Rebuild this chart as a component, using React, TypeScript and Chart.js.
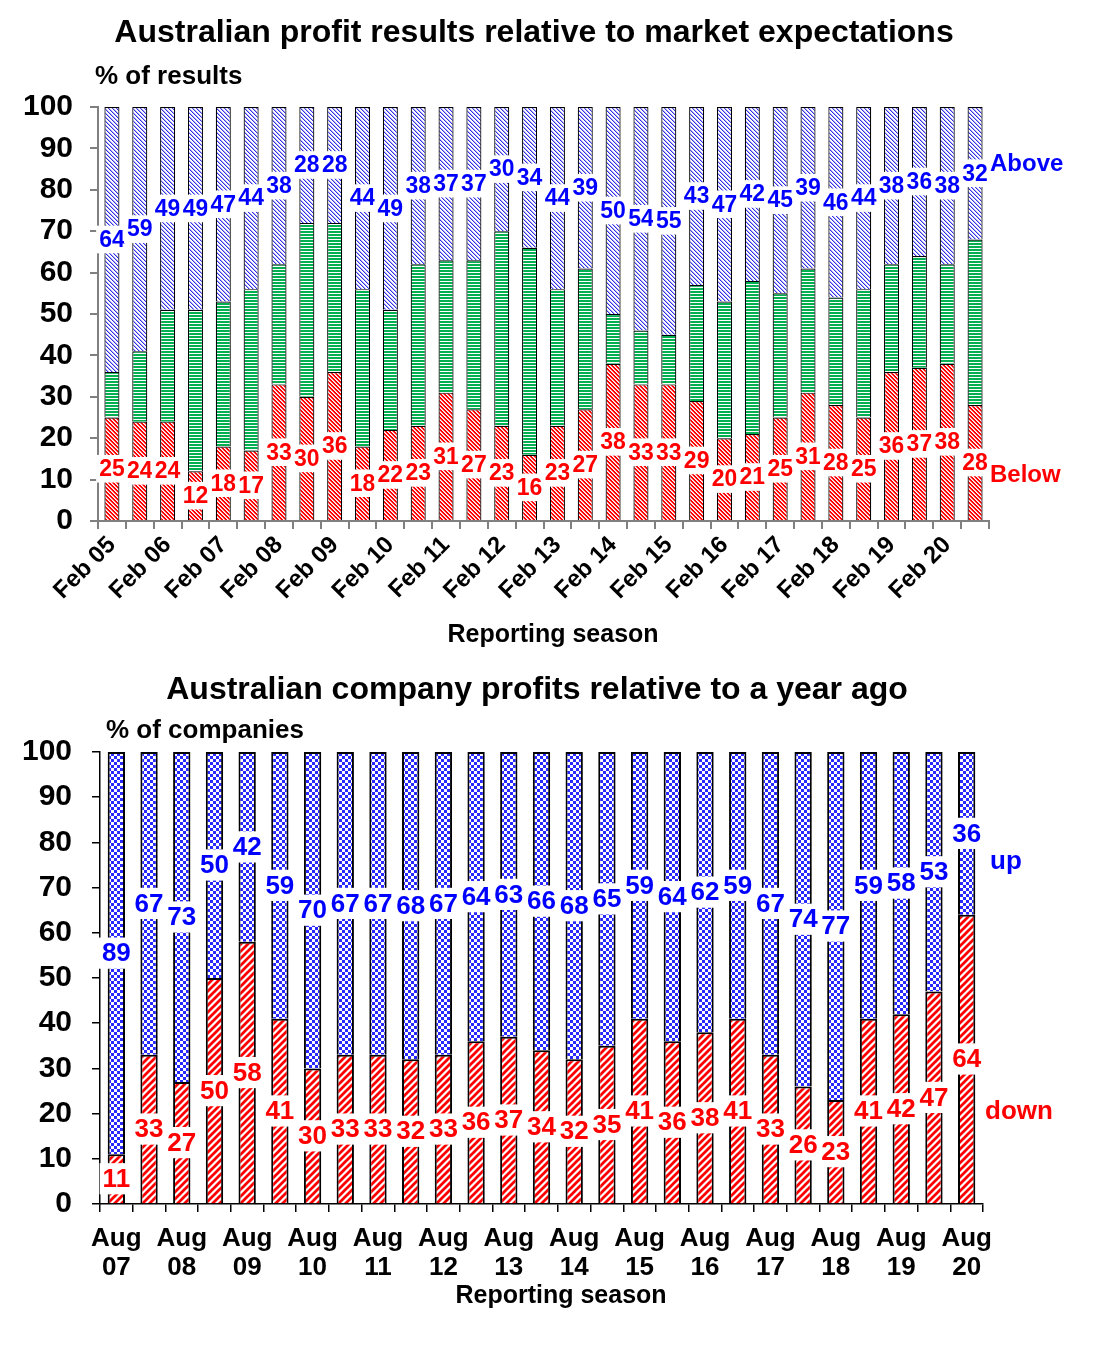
import React, { useEffect, useRef } from 'react';
import Chart from 'chart.js/auto';

// ---- top chart: results vs market expectations ----
const resultSeasons = [
  'Feb 05', 'Aug 05', 'Feb 06', 'Aug 06', 'Feb 07', 'Aug 07', 'Feb 08', 'Aug 08',
  'Feb 09', 'Aug 09', 'Feb 10', 'Aug 10', 'Feb 11', 'Aug 11', 'Feb 12', 'Aug 12',
  'Feb 13', 'Aug 13', 'Feb 14', 'Aug 14', 'Feb 15', 'Aug 15', 'Feb 16', 'Aug 16',
  'Feb 17', 'Aug 17', 'Feb 18', 'Aug 18', 'Feb 19', 'Aug 19', 'Feb 20', 'Aug 20',
];
const belowValues = [25, 24, 24, 12, 18, 17, 33, 30, 36, 18, 22, 23, 31, 27, 23, 16, 23, 27, 38, 33, 33, 29, 20, 21, 25, 31, 28, 25, 36, 37, 38, 28];
const inLineValues = [11, 17, 27, 39, 35, 39, 29, 42, 36, 38, 29, 39, 32, 36, 47, 50, 33, 34, 12, 13, 12, 28, 33, 37, 30, 30, 26, 31, 26, 27, 24, 40];
const aboveValues = [64, 59, 49, 49, 47, 44, 38, 28, 28, 44, 49, 38, 37, 37, 30, 34, 44, 39, 50, 54, 55, 43, 47, 42, 45, 39, 46, 44, 38, 36, 38, 32];

// ---- bottom chart: profits vs a year ago ----
const companySeasons = [
  'Aug 07', 'Feb 08', 'Aug 08', 'Feb 09', 'Aug 09', 'Feb 10', 'Aug 10', 'Feb 11', 'Aug 11',
  'Feb 12', 'Aug 12', 'Feb 13', 'Aug 13', 'Feb 14', 'Aug 14', 'Feb 15', 'Aug 15', 'Feb 16',
  'Aug 16', 'Feb 17', 'Aug 17', 'Feb 18', 'Aug 18', 'Feb 19', 'Aug 19', 'Feb 20', 'Aug 20',
];
const downValues = [11, 33, 27, 50, 58, 41, 30, 33, 33, 32, 33, 36, 37, 34, 32, 35, 41, 36, 38, 41, 33, 26, 23, 41, 42, 47, 64];
const upValues = [89, 67, 73, 50, 42, 59, 70, 67, 67, 68, 67, 64, 63, 66, 68, 65, 59, 64, 62, 59, 67, 74, 77, 59, 58, 53, 36];

const FONT = '"Liberation Sans", Arial, sans-serif';
const BLUE = '#0000ff';
const RED = '#ff0000';

function makePattern(ctx: CanvasRenderingContext2D, w: number, h: number, draw: (c: CanvasRenderingContext2D) => void) {
  const cv = document.createElement('canvas');
  cv.width = w;
  cv.height = h;
  const c = cv.getContext('2d')!;
  draw(c);
  return ctx.createPattern(cv, 'repeat')!;
}

type Caption = { text: string; x: number; y: number; size: number; color: string; align: CanvasTextAlign };
type LabelSpec = { dataset: number; color: string; size: number };

// draws the value labels (white boxes) and the free text of each chart
const overlay = (labels: LabelSpec[], captions: Caption[]) => ({
  id: 'overlay',
  afterDatasetsDraw(chart: any) {
    const ctx: CanvasRenderingContext2D = chart.ctx;
    labels.forEach((spec) => {
      const meta = chart.getDatasetMeta(spec.dataset);
      const data = chart.data.datasets[spec.dataset].data as number[];
      ctx.save();
      ctx.font = `bold ${spec.size}px ${FONT}`;
      ctx.textAlign = 'center';
      ctx.textBaseline = 'middle';
      meta.data.forEach((bar: any, i: number) => {
        const { x, y, base } = bar.getProps(['x', 'y', 'base'], true);
        const cy = (y + base) / 2;
        const txt = String(data[i]);
        const w = ctx.measureText(txt).width + 6;
        const h = spec.size * 1.2;
        ctx.fillStyle = '#fff';
        ctx.fillRect(x - w / 2, cy - h / 2, w, h);
        ctx.fillStyle = spec.color;
        ctx.fillText(txt, x, cy + 1);
      });
      ctx.restore();
    });
  },
  afterDraw(chart: any) {
    const ctx: CanvasRenderingContext2D = chart.ctx;
    captions.forEach((c) => {
      ctx.save();
      ctx.font = `bold ${c.size}px ${FONT}`;
      ctx.fillStyle = c.color;
      ctx.textAlign = c.align;
      ctx.textBaseline = 'middle';
      ctx.fillText(c.text, c.x, c.y);
      ctx.restore();
    });
  },
});

export default function App() {
  const topRef = useRef<HTMLCanvasElement | null>(null);
  const bottomRef = useRef<HTMLCanvasElement | null>(null);

  useEffect(() => {
    const charts: Chart[] = [];

    if (topRef.current) {
      const ctx = topRef.current.getContext('2d')!;
      const redHatch = makePattern(ctx, 4, 4, (c) => {
        c.fillStyle = RED;
        c.fillRect(0, 0, 4, 4);
        for (let i = 0; i < 4; i++) {
          c.fillStyle = '#fff';
          c.fillRect(i, i, 1, 1);
          c.fillStyle = '#ffb0b0';
          c.fillRect((i + 1) % 4, i, 1, 1);
        }
      });
      const greenStripe = makePattern(ctx, 2, 3, (c) => {
        c.fillStyle = '#fff';
        c.fillRect(0, 0, 2, 3);
        c.fillStyle = '#00b050';
        c.fillRect(0, 0, 2, 2);
      });
      const blueHatch = makePattern(ctx, 4, 4, (c) => {
        c.fillStyle = '#fff';
        c.fillRect(0, 0, 4, 4);
        for (let i = 0; i < 4; i++) {
          c.fillStyle = '#3030e8';
          c.fillRect(i, i, 1, 1);
          c.fillStyle = '#b0b0f0';
          c.fillRect((i + 1) % 4, i, 1, 1);
        }
      });

      charts.push(new Chart(ctx, {
        type: 'bar',
        data: {
          labels: resultSeasons,
          datasets: [
            { label: 'Below', data: belowValues, backgroundColor: redHatch },
            { label: 'In line', data: inLineValues, backgroundColor: greenStripe },
            { label: 'Above', data: aboveValues, backgroundColor: blueHatch },
          ].map((d) => ({ ...d, borderColor: '#000', borderWidth: 1.2, barPercentage: 0.54, categoryPercentage: 1 })),
        },
        options: {
          responsive: false,
          animation: false,
          layout: { padding: { top: 107, right: 106, left: 0, bottom: 0 } },
          plugins: { legend: { display: false }, tooltip: { enabled: false } },
          scales: {
            x: {
              stacked: true,
              grid: { drawOnChartArea: false, tickLength: 8, color: '#808080', lineWidth: 2 },
              border: { color: '#808080', width: 2 },
              ticks: {
                autoSkip: false,
                minRotation: 45,
                maxRotation: 45,
                padding: 2,
                color: '#000',
                font: { family: FONT, size: 24, weight: 'bold' },
                callback: (_v: any, i: number) => (resultSeasons[i].startsWith('Feb') ? resultSeasons[i] : ''),
              },
              afterFit: (s: any) => { s.height = 139; },
            },
            y: {
              stacked: true,
              min: 0,
              max: 100,
              grid: { drawOnChartArea: false, tickLength: 8, color: '#808080', lineWidth: 2 },
              border: { color: '#808080', width: 2 },
              ticks: { stepSize: 10, padding: 17, color: '#000', font: { family: FONT, size: 30, weight: 'bold' } },
              afterFit: (s: any) => { s.width = 98; },
            },
          },
        },
        plugins: [overlay(
          [{ dataset: 0, color: RED, size: 23 }, { dataset: 2, color: BLUE, size: 23 }],
          [
            { text: 'Australian profit results relative to market expectations', x: 534, y: 33, size: 32, color: '#000', align: 'center' },
            { text: '% of results', x: 95, y: 77, size: 26, color: '#000', align: 'left' },
            { text: 'Reporting season', x: 553, y: 635, size: 25, color: '#000', align: 'center' },
            { text: 'Above', x: 990, y: 164, size: 24, color: BLUE, align: 'left' },
            { text: 'Below', x: 990, y: 475, size: 24, color: RED, align: 'left' },
          ],
        )],
      } as any));
    }

    if (bottomRef.current) {
      const ctx = bottomRef.current.getContext('2d')!;
      const redStripe = makePattern(ctx, 7, 7, (c) => {
        c.fillStyle = '#fff';
        c.fillRect(0, 0, 7, 7);
        c.strokeStyle = RED;
        c.lineWidth = 2.7;
        [0, 7, 14].forEach((k) => {
          c.beginPath();
          c.moveTo(-2, k + 2);
          c.lineTo(k + 2, -2);
          c.stroke();
        });
      });
      const blueChecker = makePattern(ctx, 6, 6, (c) => {
        c.fillStyle = '#fff';
        c.fillRect(0, 0, 6, 6);
        c.fillStyle = '#2828ff';
        c.fillRect(0, 0, 3, 3);
        c.fillRect(3, 3, 3, 3);
      });

      charts.push(new Chart(ctx, {
        type: 'bar',
        data: {
          labels: companySeasons,
          datasets: [
            { label: 'down', data: downValues, backgroundColor: redStripe },
            { label: 'up', data: upValues, backgroundColor: blueChecker },
          ].map((d) => ({ ...d, borderColor: '#000', borderWidth: 2, barPercentage: 0.53, categoryPercentage: 1 })),
        },
        options: {
          responsive: false,
          animation: false,
          layout: { padding: { top: 92, right: 112, left: 0, bottom: 0 } },
          plugins: { legend: { display: false }, tooltip: { enabled: false } },
          scales: {
            x: {
              stacked: true,
              grid: { drawOnChartArea: false, tickLength: 8, color: '#000', lineWidth: 1.5 },
              border: { color: '#000', width: 1.5 },
              ticks: {
                autoSkip: false,
                maxRotation: 0,
                padding: 12,
                color: '#000',
                font: { family: FONT, size: 26, weight: 'bold', lineHeight: 1.12 },
                callback: (_v: any, i: number) => (companySeasons[i].startsWith('Aug') ? companySeasons[i].split(' ') : ''),
              },
              afterFit: (s: any) => { s.height = 144; },
            },
            y: {
              stacked: true,
              min: 0,
              max: 100,
              grid: { drawOnChartArea: false, tickLength: 8, color: '#000', lineWidth: 1.5 },
              border: { color: '#000', width: 1.5 },
              ticks: { stepSize: 10, padding: 20, color: '#000', font: { family: FONT, size: 30, weight: 'bold' } },
              afterFit: (s: any) => { s.width = 100; },
            },
          },
        },
        plugins: [overlay(
          [{ dataset: 0, color: RED, size: 26 }, { dataset: 1, color: BLUE, size: 26 }],
          [
            { text: 'Australian company profits relative to a year ago', x: 537, y: 30, size: 32, color: '#000', align: 'center' },
            { text: '% of companies', x: 106, y: 71, size: 26, color: '#000', align: 'left' },
            { text: 'Reporting season', x: 561, y: 636, size: 25, color: '#000', align: 'center' },
            { text: 'up', x: 990, y: 202, size: 26, color: BLUE, align: 'left' },
            { text: 'down', x: 985, y: 452, size: 26, color: RED, align: 'left' },
          ],
        )],
      } as any));
    }

    return () => charts.forEach((c) => c.destroy());
  }, []);

  return (
    <div style={{ position: 'absolute', left: 0, top: 0, width: 1095, height: 1348, background: '#fff' }}>
      <canvas ref={topRef} width={1095} height={660} style={{ display: 'block' }} />
      <canvas ref={bottomRef} width={1095} height={688} style={{ display: 'block' }} />
    </div>
  );
}
